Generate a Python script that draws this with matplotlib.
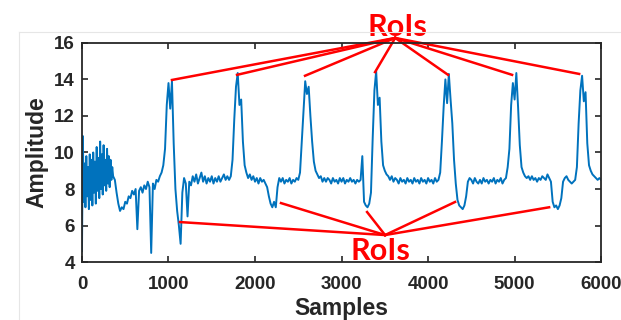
import numpy as np
import matplotlib
matplotlib.use("Agg")
import matplotlib.pyplot as plt
from matplotlib.lines import Line2D

# Signal: every 10 samples over the noisy opening,
# every 20 samples after that
samples = np.concatenate([np.arange(0, 360, 10), np.arange(360, 6001, 20)])
amplitude = [
    # 0 .. 350 (step 10)
    4.6, 10.9, 7.3, 9.4, 7.0, 9.8, 7.6, 9.2, 6.9, 9.9,
    7.4, 9.6, 7.1, 10.0, 7.8, 9.5, 7.2, 10.3, 7.9, 9.7,
    7.5, 10.6, 8.0, 9.9, 7.7, 10.4, 8.2, 9.6, 7.9, 10.2,
    8.3, 9.8, 8.1, 9.6, 8.5, 9.2,
    # 360 .. 6000 (step 20)
    8.7, 8.5,
    7.8, 7.2, 6.8, 7.0, 6.9,    7.3, 7.2, 7.6, 7.5, 7.9,
    7.7, 8.0, 5.8, 7.9, 8.1,    7.8, 8.2, 8.0, 8.4, 8.1,
    4.5, 8.3, 8.0, 8.5, 8.4,    8.7, 8.9, 9.3, 10.2, 12.6,
    13.8, 12.4, 13.9, 10.5, 8.0,  6.8, 6.0, 5.0, 7.8, 8.6,
    8.3, 6.5, 8.4, 8.2, 8.7,    8.4, 8.8, 8.3, 8.6, 8.9,
    8.4, 8.7, 8.3, 8.6, 8.4,    8.7, 8.3, 8.6, 8.4, 8.7,
    8.4, 8.6, 8.8, 8.5, 8.7,    8.5, 8.7, 9.6, 11.8, 13.6,
    14.35, 12.6, 12.9, 10.6, 9.3,  8.9, 8.6, 8.8, 8.5, 8.7,
    8.4, 8.6, 8.3, 8.6, 8.4,    8.5, 8.3, 8.1, 7.6, 7.2,
    7.0, 7.3, 7.0, 8.1, 8.6,    8.4, 8.6, 8.3, 8.5, 8.4,
    8.6, 8.3, 8.5, 8.4, 8.6,    8.5, 8.9, 10.6, 12.4, 13.9,
    13.2, 13.6, 12.0, 10.6, 9.5,  9.0, 8.8, 8.6, 8.7, 8.4,
    8.6, 8.4, 8.6, 8.5, 8.3,    8.6, 8.4, 8.5, 8.3, 8.6,
    8.4, 8.6, 8.3, 8.5, 8.4,    8.6, 8.4, 8.5, 8.3, 8.5,
    8.4, 8.5, 9.8, 7.3, 7.1,    7.0, 7.2, 7.8, 10.8, 13.4,
    14.45, 12.6, 13.0, 10.6, 9.3,  9.0, 8.8, 8.7, 8.5, 8.7,
    8.4, 8.6, 8.5, 8.3, 8.6,    8.4, 8.5, 8.3, 8.6, 8.4,
    8.5, 8.3, 8.6, 8.4, 8.5,    8.3, 8.6, 8.4, 8.5, 8.3,
    8.6, 8.4, 8.5, 8.3, 8.6,    8.4, 8.5, 8.9, 10.6, 12.5,
    14.0, 12.7, 14.3, 12.9, 11.6,  9.6, 8.3, 7.4, 7.1, 7.0,
    6.9, 7.1, 7.6, 8.4, 8.6,    8.5, 8.3, 8.6, 8.4, 8.3,
    8.5, 8.3, 8.6, 8.4, 8.5,    8.3, 8.5, 8.4, 8.6, 8.3,
    8.5, 8.4, 8.6, 8.3, 8.5,    8.6, 9.2, 10.2, 12.6, 13.8,
    12.9, 14.35, 12.5, 10.4, 9.2,  8.9, 8.7, 8.6, 8.7, 8.5,
    8.7, 8.5, 8.6, 8.4, 8.6,    8.5, 8.7, 8.6, 8.5, 8.8,
    8.6, 8.4, 7.3, 7.0, 7.1,    6.9, 7.1, 7.5, 8.4, 8.6,
    8.7, 8.5, 8.4, 8.3, 8.4,    8.5, 9.2, 11.6, 13.4, 14.2,
    12.8, 13.3, 10.5, 9.3, 9.0,  8.8, 8.7, 8.6, 8.5, 8.6,
    8.5,
]

# RoI annotation lines: hub point and end points (samples, amplitude)
top_hub = (3620, 16.27)
top_ends_x = [1040, 1792, 2578, 3387, 4231, 4971, 5746]
top_ends_y = [13.97, 14.25, 14.2, 14.4, 14.25, 14.25, 14.3]
bottom_hub = (3503, 5.48)
bottom_ends_x = [1133, 2300, 3295, 4312, 5399]
bottom_ends_y = [6.19, 7.23, 6.74, 7.29, 7.0]

fig = plt.figure(figsize=(6.21, 3.20), dpi=100)
ax = fig.add_axes([0.132, 0.181, 0.836, 0.685])

# faint frame of the original screenshot
fig.add_artist(Line2D([18.5 / 621, 1], [1 - 31.5 / 320] * 2, color="#e6e6e6", lw=0.8))
fig.add_artist(Line2D([18.5 / 621] * 2, [0, 1 - 31.5 / 320], color="#e6e6e6", lw=0.8))

ax.plot(samples, amplitude, color="#0072BD", lw=1.4)

red = "#FF0000"
for x, y in zip(top_ends_x, top_ends_y):
    ax.plot([top_hub[0], x], [top_hub[1], y], color=red, lw=1.8, clip_on=False)
for x, y in zip(bottom_ends_x, bottom_ends_y):
    ax.plot([bottom_hub[0], x], [bottom_hub[1], y], color=red, lw=1.8, clip_on=False)

ax.text(3641, 16.85, "RoIs", color=red, fontsize=22, fontweight="bold",
        family="Lato", ha="center", va="center", clip_on=False)
ax.text(3445, 4.62, "RoIs", color=red, fontsize=22, fontweight="bold",
        family="Lato", ha="center", va="center", clip_on=False)

ax.set_xlim(0, 6000)
ax.set_ylim(4, 16)
ax.set_xticks(range(0, 6001, 1000))
ax.set_yticks(range(4, 17, 2))
ax.tick_params(direction="in", top=True, right=True, length=4, width=1.2,
               labelsize=13.5, colors="#262626")
ax.tick_params(axis="x", pad=10)
ax.tick_params(axis="y", pad=5)
for lab in ax.get_xticklabels() + ax.get_yticklabels():
    lab.set_fontweight("bold")
    lab.set_family("Liberation Sans")
for sp in ax.spines.values():
    sp.set_linewidth(1.3)
    sp.set_color("#262626")

ax.set_xlabel("Samples", fontsize=16.5, fontweight="bold", family="Liberation Sans",
              color="#262626", labelpad=3)
ax.set_ylabel("Amplitude", fontsize=16.5, fontweight="bold", family="Liberation Sans",
              color="#262626", labelpad=4)

fig.savefig("out.png", dpi=100)
